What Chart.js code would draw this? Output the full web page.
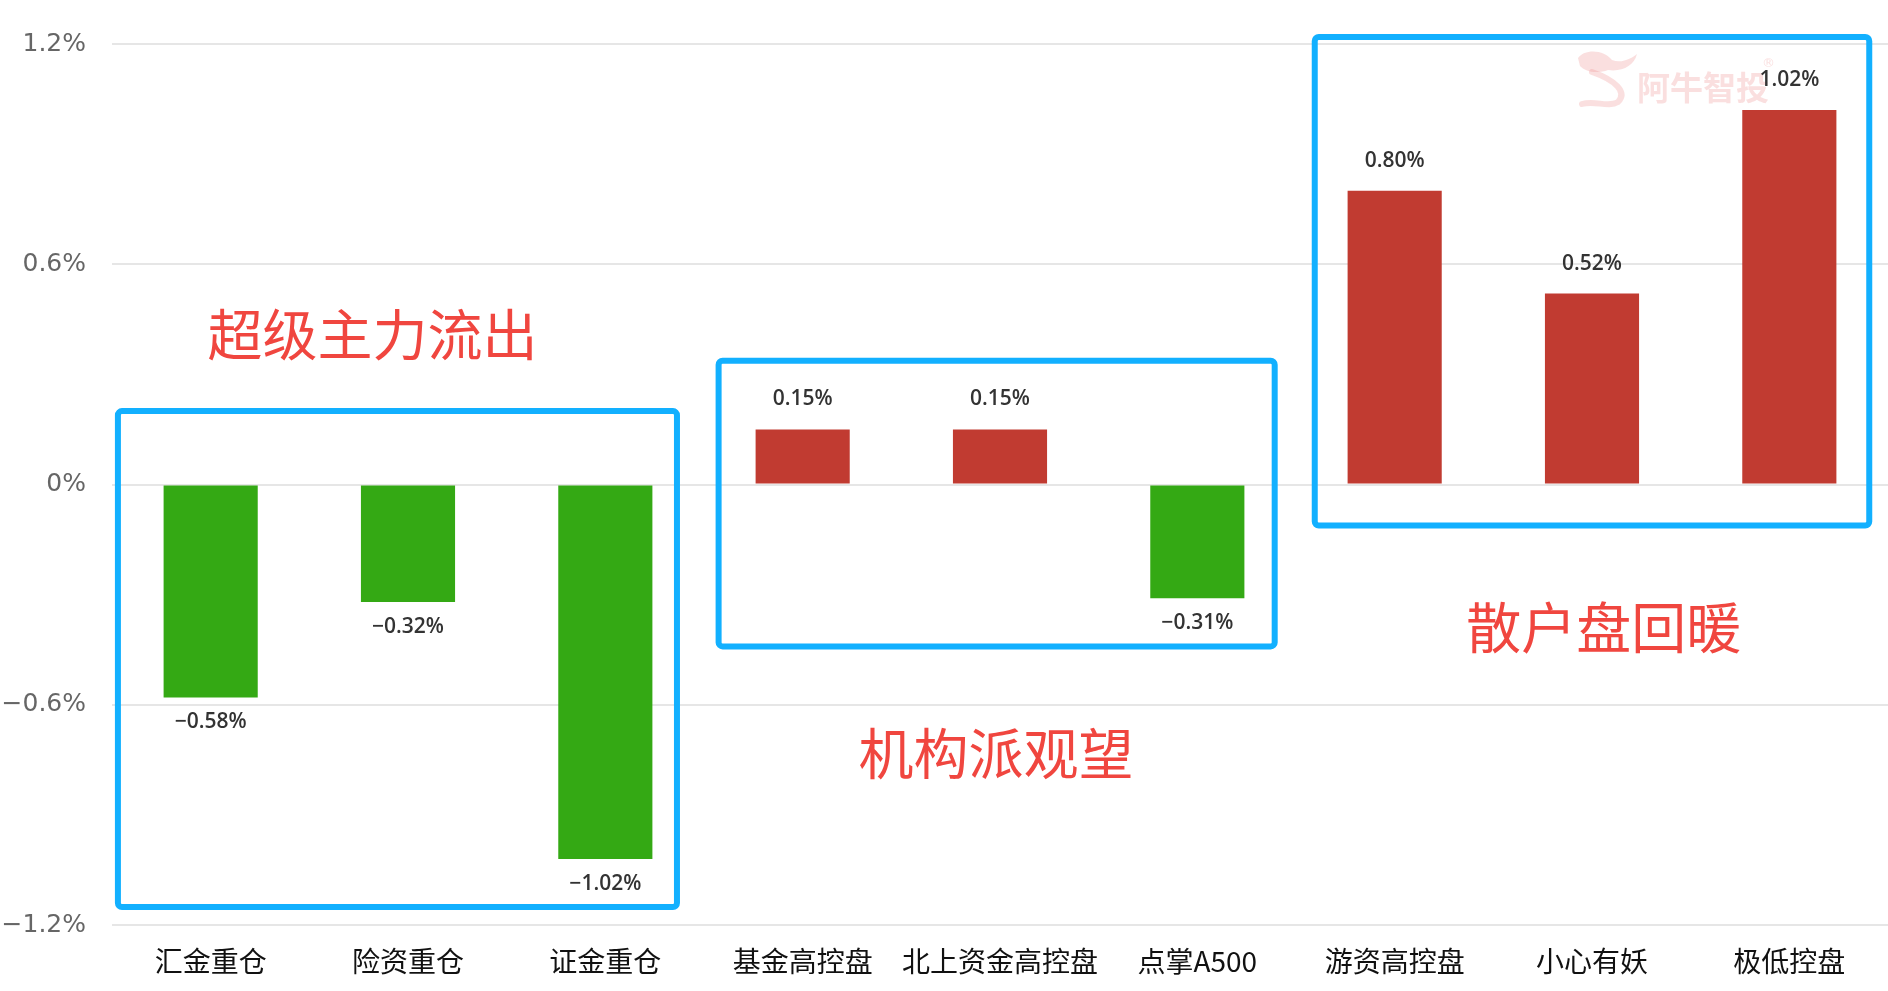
<!DOCTYPE html>
<html>
<head>
<meta charset="utf-8">
<script src="https://cdn.jsdelivr.net/npm/chart.js@4.4.1/dist/chart.umd.min.js"></script>
<style>
  body { margin: 0; background: #fff; }
  #wrap { width: 1888px; height: 991px; }
</style>
</head>
<body>
<div id="wrap"><canvas id="grafica" width="1888" height="991"></canvas></div>
<script>
// datos
const categorias = ['汇金重仓', '险资重仓', '证金重仓', '基金高控盘', '北上资金高控盘', '点掌A500', '游资高控盘', '小心有妖', '极低控盘'];
const valores = [-0.58, -0.32, -1.02, 0.15, 0.15, -0.31, 0.80, 0.52, 1.02];
const ticksY = [-1.2, -0.6, 0, 0.6, 1.2];

// grupos marcados con recuadro azul (indices de categoria y rango en %)
const grupoNombres = ['超级主力流出', '机构派观望', '散户盘回暖'];
const grupoDesde = [0, 3, 6];
const grupoHasta = [2, 5, 8];
const grupoArriba = [0.20, 0.337, 1.219];
const grupoAbajo = [-1.151, -0.441, -0.112];
// posicion del texto rojo (indice de categoria, valor en %)
const textoX = [0.82, 3.98, 7.06];
const textoY = [0.411, -0.732, -0.389];

const ROJO = '#c13b31';
const VERDE = '#34a914';

function fmtTick(v) {
  if (Math.abs(v) < 1e-9) return '0%';
  return (v < 0 ? '\u2212' : '') + Math.abs(v).toFixed(1) + '%';
}

// ---------- plugin: marca de agua ----------
const marcaAgua = {
  id: 'marcaAgua',
  beforeDatasetsDraw(chart) {
    const ctx = chart.ctx;
    ctx.save();
    ctx.fillStyle = 'rgba(236,130,130,0.26)';
    ctx.strokeStyle = 'rgba(236,130,130,0.26)';
    // logo aproximado
    ctx.beginPath();
    ctx.moveTo(1578, 58);
    ctx.bezierCurveTo(1585, 48, 1605, 50, 1612, 60);
    ctx.bezierCurveTo(1622, 64, 1632, 58, 1637, 54);
    ctx.bezierCurveTo(1634, 66, 1622, 72, 1608, 70);
    ctx.bezierCurveTo(1598, 74, 1585, 72, 1580, 66);
    ctx.closePath();
    ctx.fill();
    ctx.lineWidth = 6;
    ctx.lineCap = 'round';
    ctx.beginPath();
    ctx.moveTo(1592, 72);
    ctx.bezierCurveTo(1615, 80, 1628, 92, 1618, 102);
    ctx.bezierCurveTo(1608, 108, 1595, 100, 1582, 104);
    ctx.stroke();
    ctx.font = 'bold 33px "Noto Sans CJK SC"';
    ctx.textBaseline = 'middle';
    ctx.fillText('阿牛智投', 1637, 87);
    ctx.font = '13px "DejaVu Sans"';
    ctx.fillText('®', 1762, 64);
    ctx.restore();
  }
};

// ---------- plugin: etiquetas y recuadros ----------
const anotaciones = {
  id: 'anotaciones',
  afterDatasetsDraw(chart) {
    const ctx = chart.ctx;
    const x = chart.scales.x;
    const y = chart.scales.y;
    const meta = chart.getDatasetMeta(0);
    const cat = x.getPixelForValue(1) - x.getPixelForValue(0);

    ctx.save();
    // valores sobre/bajo las barras
    ctx.font = '600 21px "Open Sans"';
    ctx.fillStyle = '#333';
    ctx.textAlign = 'center';
    ctx.textBaseline = 'middle';
    meta.data.forEach((bar, i) => {
      const v = valores[i];
      const txt = (v < 0 ? '\u2212' : '') + Math.abs(v).toFixed(2) + '%';
      const py = v >= 0 ? bar.y - 30 : bar.y + 25;
      ctx.fillText(txt, bar.x, py);
    });

    // recuadros azules
    ctx.strokeStyle = '#12b0ff';
    ctx.lineWidth = 6;
    const offs = [[-0.47, 0.363], [-0.426, 0.392], [-0.405, 0.405]];
    grupoNombres.forEach((n, g) => {
      const l = x.getPixelForValue(grupoDesde[g]) + offs[g][0] * cat;
      const r = x.getPixelForValue(grupoHasta[g]) + offs[g][1] * cat;
      const t = y.getPixelForValue(grupoArriba[g]);
      const b = y.getPixelForValue(grupoAbajo[g]);
      ctx.beginPath();
      ctx.roundRect(l, t, r - l, b - t, 4);
      ctx.stroke();
    });

    // textos rojos
    ctx.font = '55px "Noto Sans CJK SC"';
    ctx.fillStyle = '#f0463f';
    grupoNombres.forEach((n, g) => {
      const px = x.getPixelForValue(0) + textoX[g] * cat;
      ctx.fillText(n, px, y.getPixelForValue(textoY[g]));
    });
    ctx.restore();
  }
};

new Chart(document.getElementById('grafica').getContext('2d'), {
  type: 'bar',
  data: {
    labels: categorias,
    datasets: [{
      label: '涨跌幅',
      data: valores,
      backgroundColor: valores.map(v => v >= 0 ? ROJO : VERDE),
      borderWidth: 0,
      categoryPercentage: 1,
      barPercentage: 0.477
    }]
  },
  options: {
    responsive: false,
    animation: false,
    layout: { padding: { top: 44, right: 0, bottom: 14, left: 0 } },
    plugins: {
      legend: { display: false },
      tooltip: { enabled: false }
    },
    scales: {
      x: {
        grid: { display: false, drawTicks: false },
        border: { display: false },
        afterFit: s => { s.height = 52; },
        ticks: {
          color: '#111',
          padding: 20,
          font: { size: 28, family: '"Noto Sans CJK SC"' },
          maxRotation: 0,
          autoSkip: false
        }
      },
      y: {
        min: ticksY[0],
        max: ticksY[ticksY.length - 1],
        afterBuildTicks: s => { s.ticks = ticksY.map(v => ({ value: v })); },
        afterFit: s => { s.width = 112; },
        grid: { color: '#e6e6e6', lineWidth: 2, drawTicks: false },
        border: { display: false },
        ticks: {
          color: '#666',
          padding: 26,
          font: { size: 25, family: '"DejaVu Sans"' },
          callback: v => fmtTick(v)
        }
      }
    }
  },
  plugins: [marcaAgua, anotaciones]
});
</script>
</body>
</html>
